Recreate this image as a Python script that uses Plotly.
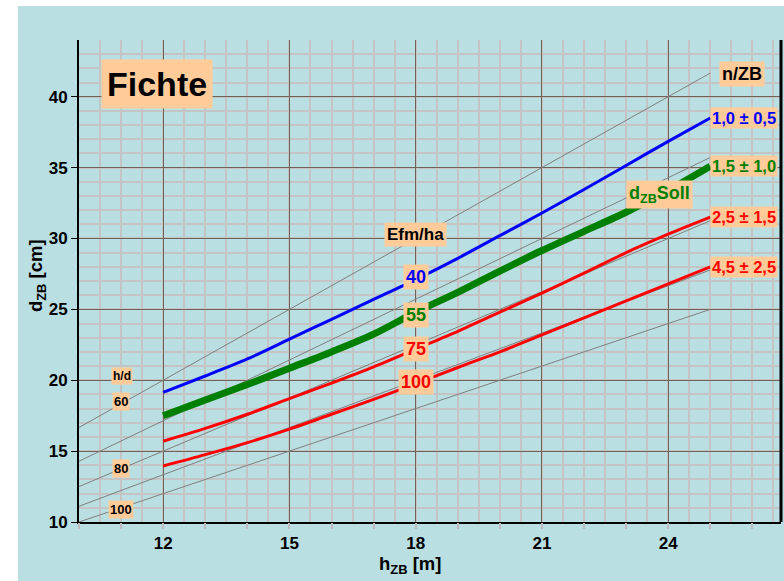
import plotly.graph_objects as go

# Tree height classes (m) for the target-tree curves
h_zb = [12, 13, 14, 15, 16, 17, 18, 19, 20, 21, 22, 23, 24, 25]

# Target diameter (cm) by stand density (Efm/ha)
d_40 = [19.15, 20.3, 21.5, 22.9, 24.3, 25.7, 27.1, 28.6, 30.2, 31.8, 33.45, 35.15, 36.85, 38.5]
d_55 = [17.5, 18.6, 19.7, 20.85, 22.0, 23.25, 24.8, 26.2, 27.7, 29.15, 30.5, 31.85, 33.4, 35.1]
d_75 = [15.7, 16.6, 17.6, 18.7, 19.8, 20.95, 22.2, 23.45, 24.8, 26.15, 27.55, 29.0, 30.3, 31.5]
d_100 = [13.95, 14.75, 15.6, 16.55, 17.6, 18.65, 19.75, 20.9, 22.0, 23.2, 24.4, 25.6, 26.8, 28.0]

efm_labels = ["40", "55", "75", "100"]
nzb_labels = ["1,0 ± 0,5", "1,5 ± 1,0", "2,5 ± 1,5", "4,5 ± 2,5"]

# Slenderness reference lines h/d
hd_values = [60, 70, 80, 90, 100]
hd_h = [10, 25]
hd_label_values = ["60", "80", "100"]
hd_label_d = [18.47, 13.8, 10.9]

x_ticks = [12, 15, 18, 21, 24]
y_ticks = [10, 15, 20, 25, 30, 35, 40]

PEACH = "#ffcb99"
PANEL = "#badfe2"
FONT = "Liberation Sans"

fig = go.Figure()

for hd in hd_values:
    fig.add_trace(go.Scatter(
        x=hd_h, y=[h * 100.0 / hd for h in hd_h], mode="lines",
        line=dict(color="#7f7f7f", width=1), hoverinfo="skip", showlegend=False))

series = [
    (d_40, "#0000ff", 3),
    (d_55, "#008000", 7),
    (d_75, "#ff0000", 3),
    (d_100, "#ff0000", 3),
]
for d, color, w in series:
    fig.add_trace(go.Scatter(x=h_zb, y=d, mode="lines",
                             line=dict(color=color, width=w, shape="spline", smoothing=0.8),
                             hoverinfo="skip", showlegend=False))

# invisible trace so the secondary tick axis is drawn
fig.add_trace(go.Scatter(x=[10], y=[10], xaxis="x2", mode="markers",
                         marker=dict(opacity=0), hoverinfo="skip", showlegend=False))

ann = []
# Density labels sitting on each curve at h = 18 m
efm_d = [27.3, 24.6, 22.2, 19.86]
for lab, dv, (_, color, _w) in zip(efm_labels, efm_d, series):
    ann.append(dict(x=18, y=dv, text=f"<b>{lab}</b>", showarrow=False,
                    font=dict(family=FONT, size=18, color=color),
                    bgcolor=PEACH, borderpad=2))
ann.append(dict(x=18, y=30.25, text="<b>Efm/ha</b>", showarrow=False,
                font=dict(family=FONT, size=17, color="black"),
                bgcolor=PEACH, borderpad=2))

# n/ZB labels at the curve ends
for lab, (d, color, _w) in zip(nzb_labels, series):
    ann.append(dict(x=h_zb[-1], y=d[-1], text=f"<b>{lab}</b>", showarrow=False,
                    xanchor="left", xshift=0,
                    font=dict(family=FONT, size=16.5, color=color),
                    bgcolor=PEACH, borderpad=1))
ann.append(dict(x=25.75, y=41.6, text="<b>n/ZB</b>", showarrow=False,
                font=dict(family=FONT, size=18, color="black"),
                bgcolor=PEACH, borderpad=2))

ann.append(dict(x=23.8, y=33.1, text="<b>d<sub>ZB</sub>Soll</b>", showarrow=False,
                font=dict(family=FONT, size=18, color="#008000"),
                bgcolor=PEACH, borderpad=2))

ann.append(dict(x=11.86, y=40.9, text="<b>Fichte</b>", showarrow=False,
                font=dict(family=FONT, size=34, color="black"),
                bgcolor=PEACH, borderpad=5))

# h/d labels
ann.append(dict(x=11.02, y=20.3, text="<b>h/d</b>", showarrow=False,
                font=dict(family=FONT, size=12, color="black"),
                bgcolor=PEACH, borderpad=1))
for lab, dv in zip(hd_label_values, hd_label_d):
    ann.append(dict(x=11.0, y=dv, text=f"<b>{lab}</b>", showarrow=False,
                    font=dict(family=FONT, size=13, color="black"),
                    bgcolor=PEACH, borderpad=1))

# Axis titles
ann.append(dict(xref="paper", yref="paper", x=-0.06, y=0.512,
                xanchor="center", yanchor="middle",
                text="<b>d<sub>ZB</sub> [cm]</b>", textangle=-90, showarrow=False,
                font=dict(family=FONT, size=18.5, color="black")))
ann.append(dict(xref="paper", yref="paper", x=0.4715, y=-0.089,
                xanchor="center", yanchor="middle",
                text="<b>h<sub>ZB</sub> [m]</b>", showarrow=False,
                font=dict(family=FONT, size=18.5, color="black")))

shapes = [
    dict(type="rect", xref="paper", yref="paper",
         x0=(18 - 79) / 702, x1=(790 - 79) / 702,
         y0=(522 - 590) / 482, y1=(522 - 6) / 482,
         fillcolor=PANEL, line=dict(width=0), layer="below"),
    dict(type="line", xref="paper", yref="paper", x0=1, x1=1, y0=0, y1=1,
         line=dict(color="black", width=3)),
]

fig.update_layout(
    width=784, height=581,
    margin=dict(l=79, r=3, t=40, b=59),
    paper_bgcolor="white", plot_bgcolor=PEACH,
    showlegend=False,
    annotations=ann, shapes=shapes,
    xaxis=dict(range=[10, 26.68], tickmode="array", tickvals=x_ticks,
               ticktext=[str(v) for v in x_ticks],
               showgrid=True, gridcolor="#6f6257", gridwidth=1.2,
               minor=dict(dtick=0.5, showgrid=True, gridcolor="#c4c4c4", gridwidth=2, ticks=""),
               ticks="outside", ticklen=5, tickcolor="#444444",
               showline=True, linecolor="black", linewidth=2,
               tickfont=dict(family=FONT, size=17, color="black", weight="bold"),
               zeroline=False, fixedrange=True),
    xaxis2=dict(range=[10, 26.68], overlaying="x", anchor="y", side="bottom",
                tickmode="linear", tick0=10, dtick=1,
                ticks="outside", ticklen=6, tickcolor="#bdbdbd", tickwidth=2,
                showticklabels=False, showgrid=False, showline=False, zeroline=False),
    yaxis=dict(range=[10, 44.0], tickmode="array", tickvals=y_ticks,
               ticktext=[str(v) for v in y_ticks],
               showgrid=True, gridcolor="#6f6257", gridwidth=1.2,
               minor=dict(dtick=1, showgrid=True, gridcolor="#c4c4c4", gridwidth=2, ticks=""),
               ticks="outside", ticklen=6, tickcolor="black",
               showline=True, linecolor="black", linewidth=2,
               tickfont=dict(family=FONT, size=17, color="black", weight="bold"),
               zeroline=False, fixedrange=True),
)

fig.write_html("out.html")
